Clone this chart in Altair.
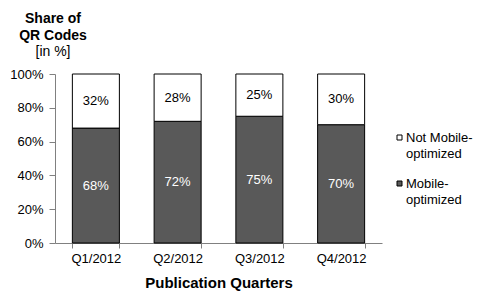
import altair as alt
import pandas as pd

quarters = ["Q1/2012", "Q2/2012", "Q3/2012", "Q4/2012"]
mobile = [68, 72, 75, 70]
not_mobile = [32, 28, 25, 30]
series = ["Mobile-optimized", "Not Mobile-optimized"]

rows = []
for q, m, n in zip(quarters, mobile, not_mobile):
    rows.append({"quarter": q, "series": series[0], "value": m, "ord": 0})
    rows.append({"quarter": q, "series": series[1], "value": n, "ord": 1})
df = pd.DataFrame(rows)

FONT = "Liberation Sans"

base = alt.Chart(df).transform_stack(
    stack="value", groupby=["quarter"], as_=["y0", "y1"],
    sort=[alt.SortField("ord", order="ascending")]
).transform_calculate(
    ymid="(datum.y0 + datum.y1) / 2",
    lbl="datum.value + '%'"
)

x_axis = alt.Axis(
    title="Publication Quarters", titleFont=FONT, titleFontSize=15,
    titleFontWeight="bold", titlePadding=10, titleColor="black",
    labelFont=FONT, labelFontSize=13, labelColor="black", labelAngle=0,
    labelPadding=4, tickBand="extent", tickSize=5, tickColor="#808080",
    domainColor="#808080", grid=False,
)
y_axis = alt.Axis(
    title=None, values=[0, 20, 40, 60, 80, 100], labelOverlap=False,
    labelExpr="datum.value + '%'", labelFont=FONT, labelFontSize=13,
    labelColor="black", tickSize=6, tickColor="#808080",
    domainColor="#808080", grid=False, labelPadding=6,
)
x_scale = alt.Scale(paddingInner=0.425, paddingOuter=0.2125)
y_scale = alt.Scale(domain=[0, 100])

bars = base.mark_bar(stroke="black", strokeWidth=1).encode(
    x=alt.X("quarter:N", sort=quarters, scale=x_scale, axis=x_axis),
    y=alt.Y("y0:Q", scale=y_scale, axis=y_axis),
    y2="y1:Q",
    color=alt.Color(
        "series:N",
        scale=alt.Scale(domain=["Not Mobile-optimized", "Mobile-optimized"],
                        range=["white", "#595959"]),
        legend=alt.Legend(
            title=None, orient="none", legendX=338, legendY=57,
            symbolType="square", symbolSize=25, symbolStrokeColor="black",
            symbolStrokeWidth=1, labelFont=FONT, labelFontSize=13,
            labelColor="black", labelOffset=0, rowPadding=16,
            labelExpr="datum.label == 'Not Mobile-optimized' ? ['Not Mobile-', 'optimized'] : ['Mobile-', 'optimized']",
        ),
    ),
)

labels = base.mark_text(font=FONT, fontSize=13).encode(
    x=alt.X("quarter:N", sort=quarters, scale=x_scale, axis=x_axis),
    y=alt.Y("ymid:Q", scale=y_scale, axis=y_axis),
    text="lbl:N",
    color=alt.Color(
        "series:N",
        scale=alt.Scale(domain=["Not Mobile-optimized", "Mobile-optimized"],
                        range=["black", "white"]),
        legend=None,
    ),
)

chart = alt.layer(bars, labels).resolve_scale(color="independent").properties(
    width=327, height=169,
    autosize=alt.AutoSizeParams(type="none"),
    padding={"left": 47, "top": 66, "right": 94, "bottom": 49},
    title=alt.TitleParams(
        text=["Share of", "QR Codes"], subtitle="[in %]",
        anchor="start", align="center", dx=-2, offset=9, frame="group",
        font=FONT, fontSize=14, fontWeight="bold", color="black",
        subtitleFont=FONT, subtitleFontSize=14, subtitleColor="black",
        subtitlePadding=2, lineHeight=17, subtitleLineHeight=17,
    ),
).configure(
    style={"guide-label": {"lineHeight": 16}}
).configure_view(stroke=None)

chart.save("out.html", embed_options={"renderer": "svg", "actions": False})
